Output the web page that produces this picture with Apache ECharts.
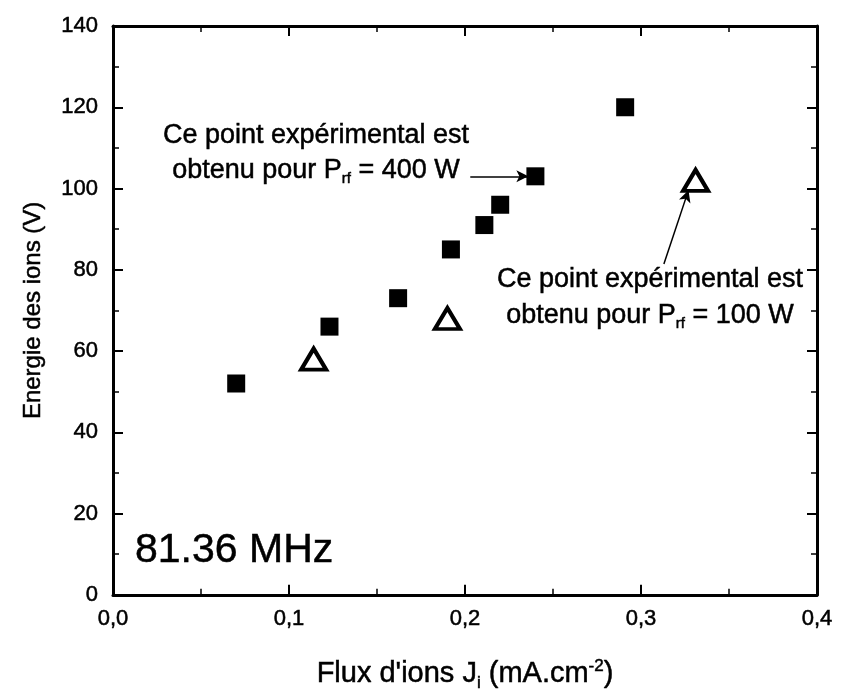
<!DOCTYPE html>
<html><head><meta charset="utf-8">
<script src="https://cdn.jsdelivr.net/npm/echarts@6/dist/echarts.min.js"></script>
<style>html,body{margin:0;padding:0;background:#fff}#c{width:841px;height:697px}</style>
</head><body><div id="c"></div>
<script>
// Data
const squares400 = [[0.070,52],[0.123,66],[0.162,73],[0.192,85],[0.211,91],[0.220,96],[0.240,103],[0.291,120]];
const triangles100 = [[0.114,58],[0.190,68],[0.331,102]];
const xTicks = [0.0,0.1,0.2,0.3,0.4];
const yTicks = [0,20,40,60,80,100,120,140];
const arrow400 = [[0.203,103],[0.236,103]];
const arrow100 = [[0.313,81.4],[0.327,99.6]];

const font = "'Liberation Sans', Arial, sans-serif";
const chart = echarts.init(document.getElementById('c'));
const tickStyle = {color:'#000', width:2};
const baseX = {
  type:'value', min:0, max:0.4, interval:0.1,
  axisLine:{show:true, onZero:false, lineStyle:{color:'#000', width:3}},
  axisTick:{show:true, inside:true, length:10, lineStyle:tickStyle},
  minorTick:{show:true, splitNumber:2, length:6, lineStyle:{color:'#000', width:1.5}},
  splitLine:{show:false}
};
const baseY = {
  type:'value', min:0, max:140, interval:20,
  axisLine:{show:true, onZero:false, lineStyle:{color:'#000', width:3}},
  axisTick:{show:true, inside:true, length:10, lineStyle:tickStyle},
  minorTick:{show:true, splitNumber:2, length:6, lineStyle:{color:'#000', width:1.5}},
  splitLine:{show:false}
};
const bold = {textBorderColor:'#000', textBorderWidth:0.5};
const gbold = {stroke:'#000', lineWidth:0.5};
chart.setOption({
  animation:false,
  backgroundColor:'#fff',
  grid:{left:113, right:24, top:26, bottom:100},
  xAxis:[
    Object.assign({}, baseX, {
      position:'bottom',
      axisLabel:Object.assign({color:'#000', fontSize:22, fontFamily:font, margin:13,
        formatter:v=>{const t=xTicks.find(a=>Math.abs(a-v)<1e-9); return t===undefined?'':t.toFixed(1).replace('.',',');}}, bold),
      name:"Flux d'ions J{sub|i} (mA.cm{sup|-2})", nameLocation:'middle', nameGap:62,
      nameTextStyle:Object.assign({color:'#000', fontSize:29, fontFamily:font,
        rich:{sub:Object.assign({fontSize:17, fontFamily:font, color:'#000', padding:[18,0,0,0]}, bold),
              sup:Object.assign({fontSize:17, fontFamily:font, color:'#000', padding:[0,0,15,0]}, bold)}}, bold)
    }),
    Object.assign({}, baseX, {position:'top', axisLabel:{show:false}})
  ],
  yAxis:[
    Object.assign({}, baseY, {
      position:'left',
      axisLabel:Object.assign({color:'#000', fontSize:22, fontFamily:font, margin:15,
        formatter:v=>yTicks.includes(v)?String(v):''}, bold),
      name:'Energie des ions (V)', nameLocation:'middle', nameGap:68,
      nameTextStyle:Object.assign({color:'#000', fontSize:24, fontFamily:font}, bold)
    }),
    Object.assign({}, baseY, {position:'right', axisLabel:{show:false}})
  ],
  series:[
    {type:'scatter', name:'400 W', data:squares400, symbol:'rect', symbolSize:18,
      itemStyle:{color:'#000', opacity:1}, z:3,
      markLine:{silent:true, symbol:['none','arrow'], symbolSize:[9,12],
        lineStyle:{color:'#000', width:1.5, type:'solid', opacity:1}, label:{show:false},
        data:[[{coord:arrow400[0]},{coord:arrow400[1]}]]}
    },
    {type:'scatter', name:'100 W', data:triangles100, symbol:'triangle', symbolSize:[25,21],
      itemStyle:{color:'#fff', borderColor:'#000', borderWidth:4, opacity:1}, z:3,
      markLine:{silent:true, symbol:['none','arrow'], symbolSize:[9,12],
        lineStyle:{color:'#000', width:1.5, type:'solid', opacity:1}, label:{show:false},
        data:[[{coord:arrow100[0]},{coord:arrow100[1]}]]}
    }
  ],
  graphic:[
    {type:'text', x:316, y:118, style:Object.assign({
      text:'Ce point expérimental est\nobtenu pour P{sub|rf} = 400 W', fill:'#000',
      font:'27px '+font, lineHeight:35, textAlign:'center', textVerticalAlign:'top',
      rich:{sub:Object.assign({fontSize:15, fontFamily:font, fill:'#000', padding:[16,0,0,0]}, gbold)}}, gbold)},
    {type:'text', x:650, y:262, style:Object.assign({
      text:'Ce point expérimental est\nobtenu pour P{sub|rf} = 100 W', fill:'#000',
      font:'27px '+font, lineHeight:36, textAlign:'center', textVerticalAlign:'top',
      rich:{sub:Object.assign({fontSize:15, fontFamily:font, fill:'#000', padding:[16,0,0,0]}, gbold)}}, gbold)},
    {type:'text', x:135, y:530, style:Object.assign({text:'81.36 MHz', fill:'#000', font:'41px '+font}, gbold)}
  ]
});
</script></body></html>
